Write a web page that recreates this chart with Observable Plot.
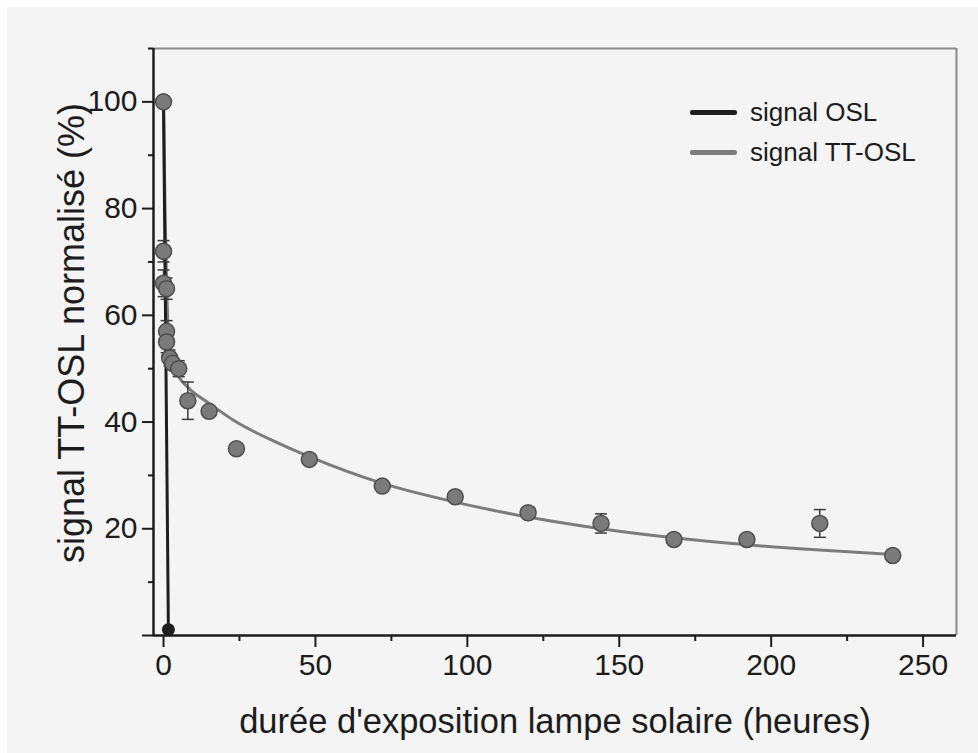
<!DOCTYPE html>
<html>
<head>
<meta charset="utf-8">
<script src="https://cdn.jsdelivr.net/npm/d3@7"></script>
<script src="https://cdn.jsdelivr.net/npm/@observablehq/plot@0.6"></script>
<style>
  body { margin: 0; background: #fff; }
  #wrap { position: relative; width: 978px; height: 753px; background: #fff; overflow: hidden;
          font-family: "Liberation Sans", Arial, sans-serif; }
  #bg { position: absolute; left: 7px; top: 7px; right: 0; bottom: 0; background: #f4f4f4; }
  #chart { position: absolute; left: 0; top: 0; }
  #legend { position: absolute; left: 690px; top: 96px; color: #1c1c1c; font-size: 26px; }
  .row { display: flex; align-items: center; height: 32px; margin-bottom: 8px; }
  .sw { width: 47px; height: 5px; border-radius: 2px; margin-right: 13px; }
  #ylab { position: absolute; left: 72px; top: 333px; transform: translate(-50%, -50%) rotate(-90deg);
          white-space: nowrap; font-size: 36px; line-height: 1; color: #1c1c1c; }
</style>
</head>
<body>
<div id="wrap"><div id="bg"></div><div id="chart"></div>
  <div id="ylab"></div>
  <div id="legend">
    <div class="row"><div class="sw" style="background:#1e1e1e"></div><span>signal OSL</span></div>
    <div class="row"><div class="sw" style="background:#7c7c7c"></div><span>signal TT-OSL</span></div>
  </div>
</div>
<script>
// TT-OSL measured points (hours, %), with error
const ttX   = [0, 0, 0, 1, 1, 1, 2, 3, 5, 8, 15, 24, 48, 72, 96, 120, 144, 168, 192, 216, 240];
const ttY   = [100, 72, 66, 65, 57, 55, 52, 51, 50, 44, 42, 35, 33, 28, 26, 23, 21, 18, 18, 21, 15];
const ttErr = [0.5, 2, 2.5, 2, 2, 2, 1.5, 1, 1.5, 3.5, 0.8, 0.8, 0.8, 0.8, 0.8, 0.8, 1.8, 0.5, 0.5, 2.6, 0.5];
// OSL signal
const oslX = [0, 1.6];
const oslY = [100, 1.1];
// TT-OSL fitted curve
const fitX = [0, 0.5, 1, 1.5, 2, 3, 5, 8, 15, 24, 36, 48, 72, 96, 120, 144, 168, 192, 216, 240];
const fitY = [100, 80, 66, 58, 54, 51, 48.5, 46.5, 43.5, 40, 36.5, 33.5, 28.5, 25, 22.2, 20, 18.3, 17, 16, 15.2];
// axes
const xDomain = [-3.3, 261];
const yDomain = [0, 110];
const xTicks = [0, 50, 100, 150, 200, 250];
const xMinor = [25, 75, 125, 175, 225];
const yTicks = [0, 20, 40, 60, 80, 100];
const yMinor = [10, 30, 50, 70, 90, 110];
const xLabel = "durée d'exposition lampe solaire (heures)";
const yLabel = "signal TT-OSL normalisé (%)";

document.getElementById("ylab").textContent = yLabel;

const tt = ttX.map((x, i) => ({x, y: ttY[i], err: ttErr[i]}));
const osl = oslX.map((x, i) => ({x, y: oslY[i]}));
const fit = fitX.map((x, i) => ({x, y: fitY[i]}));

const capSymbol = {
  draw(context, size) {
    const h = Math.sqrt(size / Math.PI);
    context.moveTo(-h, 0);
    context.lineTo(h, 0);
  }
};

const chart = Plot.plot({
  width: 978,
  height: 753,
  marginLeft: 153,
  marginRight: 22,
  marginTop: 48,
  marginBottom: 118,
  style: {background: "transparent", fontFamily: "Liberation Sans, Arial, sans-serif", color: "#1c1c1c"},
  x: {domain: xDomain},
  y: {domain: yDomain},
  marks: [
    Plot.ruleY([yDomain[1]], {stroke: "#8a8a8a", strokeWidth: 2}),
    Plot.ruleX([xDomain[1]], {stroke: "#8a8a8a", strokeWidth: 2}),
    Plot.axisX({ticks: xTicks, tickSize: 12, tickPadding: 6, fontSize: 30, tickFormat: d => d, label: null, strokeWidth: 2}),
    Plot.axisX({ticks: xMinor, tickSize: 6, tickFormat: () => "", label: null, strokeWidth: 2}),
    Plot.axisY({ticks: yTicks, tickSize: 11, tickPadding: 5, fontSize: 30, tickFormat: d => d === 0 ? "" : d, label: null, strokeWidth: 2}),
    Plot.axisY({ticks: yMinor, tickSize: 5, tickFormat: () => "", label: null, strokeWidth: 2}),
    Plot.line(fit, {x: "x", y: "y", stroke: "#7c7c7c", strokeWidth: 3, curve: "monotone-x"}),
    Plot.line(osl, {x: "x", y: "y", stroke: "#1e1e1e", strokeWidth: 3}),
    Plot.ruleX(tt, {x: "x", y1: d => d.y - d.err, y2: d => d.y + d.err, stroke: "#3a3a3a", strokeWidth: 1.5}),
    Plot.dot(tt, {x: "x", y: d => d.y + d.err, symbol: capSymbol, r: 6, stroke: "#3a3a3a", strokeWidth: 1.5}),
    Plot.dot(tt, {x: "x", y: d => d.y - d.err, symbol: capSymbol, r: 6, stroke: "#3a3a3a", strokeWidth: 1.5}),
    Plot.dot(tt, {x: "x", y: "y", r: 8, fill: "#7a7a7a", stroke: "#4d4d4d", strokeWidth: 1.5}),
    Plot.dot(osl.slice(1), {x: "x", y: "y", r: 6.5, fill: "#1e1e1e"}),
    Plot.ruleX([xDomain[0]], {stroke: "#1c1c1c", strokeWidth: 2.5}),
    Plot.ruleY([yDomain[0]], {stroke: "#1c1c1c", strokeWidth: 2.5}),
    Plot.text([xLabel], {text: d => d, frameAnchor: "bottom", dy: 86, textAnchor: "middle", lineAnchor: "middle", fontSize: 34.5, fill: "#1c1c1c"})
  ]
});
document.getElementById("chart").appendChild(chart);
</script>
</body>
</html>
